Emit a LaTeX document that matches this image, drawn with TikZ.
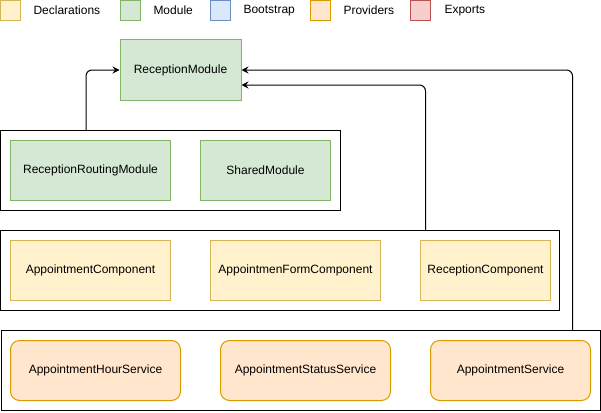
\documentclass[tikz,border=0pt]{standalone}
\usepackage{fontspec}
\setmainfont{Liberation Sans}
\usetikzlibrary{arrows.meta,calc}
\definecolor{declF}{HTML}{FFF2CC}\definecolor{declD}{HTML}{D6B656}
\definecolor{modF}{HTML}{D5E8D4}\definecolor{modD}{HTML}{82B366}
\definecolor{bootF}{HTML}{DAE8FC}\definecolor{bootD}{HTML}{6C8EBF}
\definecolor{provF}{HTML}{FFE6CC}\definecolor{provD}{HTML}{D79B00}
\definecolor{expF}{HTML}{F8CECC}\definecolor{expD}{HTML}{B85450}
\begin{document}
\begin{tikzpicture}[x=1pt,y=-1pt,
  every node/.style={font=\fontsize{12}{14}\selectfont, inner sep=0pt, line width=1pt},
  legbox/.style={draw, minimum width=20pt, minimum height=20pt},
  legtext/.style={anchor=west},
  box/.style={draw, minimum height=60pt},
  decl/.style={box, fill=declF, draw=declD},
  modl/.style={box, fill=modF, draw=modD},
  prov/.style={box, fill=provF, draw=provD, rounded corners=9pt},
  container/.style={draw=black, minimum height=80pt},
  link/.style={draw=black, line width=1pt, rounded corners=6pt, -{Stealth[length=7pt,width=7pt,inset=2.5pt]}}]
\useasboundingbox (0,0) rectangle (601,412);
% legend
\node[legbox, fill=declF, draw=declD] (l1) at (10.5,10.5) {};
\node[legtext] (t1) at (33,10.5) {Declarations};
\node[legbox, fill=modF, draw=modD] (l2) at (130.5,10.5) {};
\node[legtext] (t2) at (153,10.5) {Module};
\node[legbox, fill=bootF, draw=bootD] (l3) at (220.5,10.5) {};
\node[legtext] (t3) at (243,10.5) {Bootstrap};
\node[legbox, fill=provF, draw=provD] (l4) at (320.5,10.5) {};
\node[legtext] (t4) at (343,10.5) {Providers};
\node[legbox, fill=expF, draw=expD] (l5) at (420.5,10.5) {};
\node[legtext] (t5) at (444,10.5) {Exports};
% reception module
\node[modl, minimum width=121pt] (rm) at (180.5,70) {ReceptionModule};
% module container
\node[container, minimum width=340pt] (modc) at (170.5,170.5) {};
\node[modl, minimum width=160pt] (rrm) at (90.5,170.5) {ReceptionRoutingModule};
\node[modl, minimum width=130pt] (sm) at (265.5,170.5) {SharedModule};
% declarations container
\node[container, minimum width=559pt] (declc) at (280,270.5) {};
\node[decl, minimum width=160pt] (ac) at (90.5,270.5) {AppointmentComponent};
\node[decl, minimum width=170pt] (afc) at (295.5,270.5) {AppointmenFormComponent};
\node[decl, minimum width=130pt] (rc) at (485.5,270.5) {ReceptionComponent};
% providers container
\node[container, minimum width=599pt] (provc) at (300.5,370.5) {};
\node[prov, minimum width=170pt] (ahs) at (95.5,370.5) {AppointmentHourService};
\node[prov, minimum width=170pt] (ass) at (305.5,370.5) {AppointmentStatusService};
\node[prov, minimum width=160pt] (as) at (510.5,370.5) {AppointmentService};
% connectors
\draw[link] ($(modc.north west)+(86,0)$) |- (rm.west);
\draw[link] ($(declc.north west)+(425.5,0)$) |- ($(rm.east)+(0,15)$);
\draw[link] ($(provc.north west)+(572,0)$) |- (rm.east);
\end{tikzpicture}
\end{document}
